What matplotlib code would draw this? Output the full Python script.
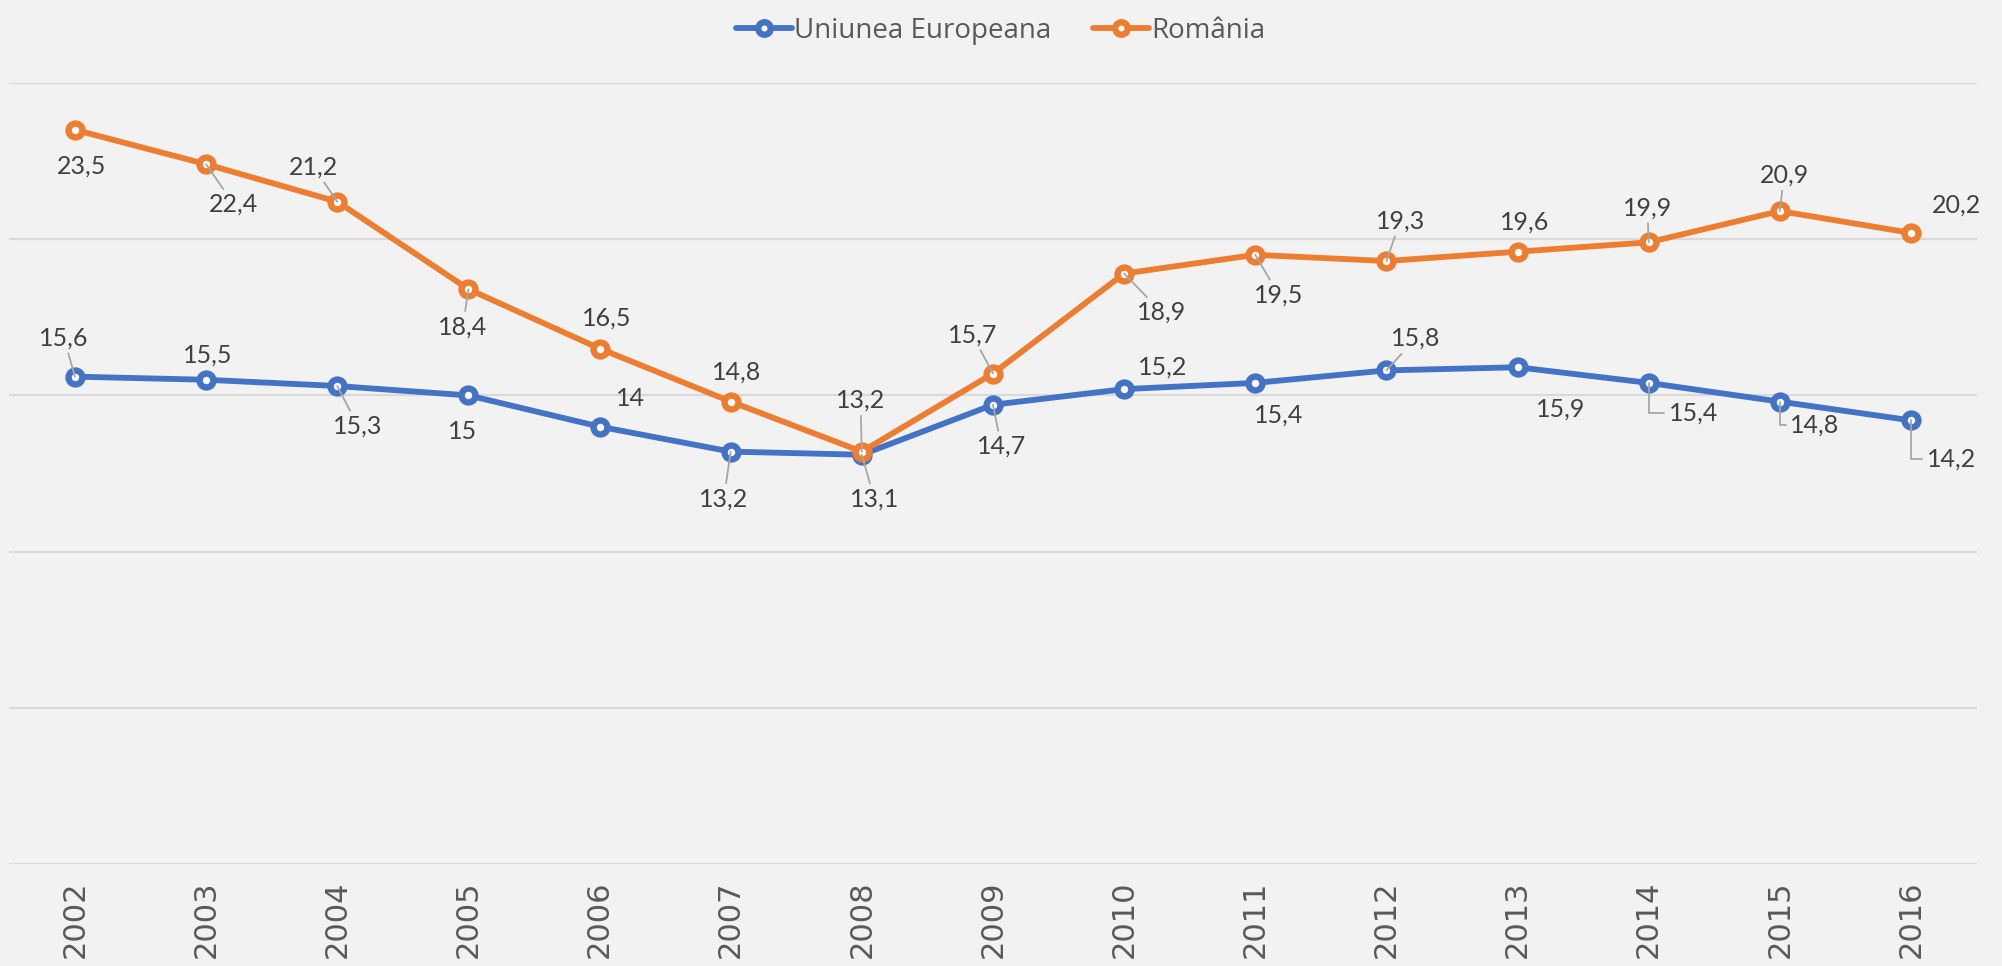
import matplotlib
matplotlib.use("Agg")
import matplotlib.pyplot as plt

# date
ani = ["2002", "2003", "2004", "2005", "2006", "2007", "2008", "2009",
       "2010", "2011", "2012", "2013", "2014", "2015", "2016"]
ue = [15.6, 15.5, 15.3, 15.0, 14.0, 13.2, 13.1, 14.7, 15.2, 15.4, 15.8, 15.9, 15.4, 14.8, 14.2]
ro = [23.5, 22.4, 21.2, 18.4, 16.5, 14.8, 13.2, 15.7, 18.9, 19.5, 19.3, 19.6, 19.9, 20.9, 20.2]
serii = ["Uniunea Europeana", "România"]

# pozitia etichetelor (dx, dy in puncte, linie de legatura)
et_ue = [(-8, 28, "l"), (1, 18, ""), (15, -29, "l"), (-4, -26, ""), (22, 20, ""),
         (-5, -34, "l"), (9, -32, "l"), (6, -30, "l"), (28, 16, ""), (17, -23, ""),
         (21, 23, "l"), (31, -30, ""), (32, -22, "e"), (25, -17, "e"), (29, -28, "e")]
et_ro = [(5, -26, ""), (20, -29, "l"), (-17, 25, "l"), (-4, -27, "l"), (5, 22, ""),
         (4, 21, ""), (-1, 37, "l"), (-15, 28, "l"), (27, -28, "l"), (17, -29, "l"),
         (10, 29, "l"), (5, 21, ""), (-1, 25, "l"), (3, 26, "l"), (33, 20, "")]

albastru = "#4472C4"
portocaliu = "#ED7D31"
fundal = "#F2F2F2"
text_c = "#404040"
gri = "#A6A6A6"

fig = plt.figure(figsize=(20.02, 9.66), dpi=100, facecolor=fundal)
ax = fig.add_axes([0.0047, 0.1056, 0.9826, 0.8085], facecolor=fundal)

x = list(range(len(ani)))
for vals, col, nume in [(ue, albastru, serii[0]), (ro, portocaliu, serii[1])]:
    ax.plot(x, vals, color=col, lw=4.2, marker="o", ms=10, mfc="white",
            mec=col, mew=4.6, label=nume, solid_capstyle="round", zorder=3)

eticheta_font = ["Lato", "DejaVu Sans"]


def eticheta(xi, v, dx, dy, tip):
    txt = f"{v:g}".replace(".", ",")
    ap = None
    if tip == "l":
        ap = dict(arrowstyle="-", color=gri, lw=1.3, shrinkA=1, shrinkB=0)
    elif tip == "e":
        ap = dict(arrowstyle="-", color=gri, lw=1.3, shrinkA=1, shrinkB=0,
                  connectionstyle="angle,angleA=0,angleB=90,rad=0")
    ax.annotate(txt, (xi, v), xytext=(dx, dy), textcoords="offset points",
                ha="center", va="center", fontsize=18, color=text_c,
                family=eticheta_font, arrowprops=ap, zorder=4)


for i in x:
    eticheta(i, ue[i], *et_ue[i])
    eticheta(i, ro[i], *et_ro[i])

ax.set_xlim(-0.5, len(ani) - 0.5)
ax.set_ylim(0, 25)
ax.set_yticks([0, 5, 10, 15, 20, 25])
ax.set_yticklabels([])
ax.grid(axis="y", color="#D9D9D9", lw=1.5)
ax.set_axisbelow(True)
ax.tick_params(axis="y", length=0)
ax.set_xticks(x)
ax.set_xticklabels(ani, rotation=90, fontsize=22, color="#595959",
                   family="DejaVu Sans")
ax.tick_params(axis="x", length=0, pad=12)
for s in ax.spines.values():
    s.set_visible(False)

fig.legend(loc="upper center", bbox_to_anchor=(0.5, 1.0), ncol=2, frameon=False,
           prop=dict(family="Open Sans", size=20), labelcolor="#595959",
           handlelength=2.0, handletextpad=0.1, columnspacing=1.5, borderaxespad=0.2,
           markerscale=0.9)

fig.savefig("out.png", dpi=100, facecolor=fundal)
